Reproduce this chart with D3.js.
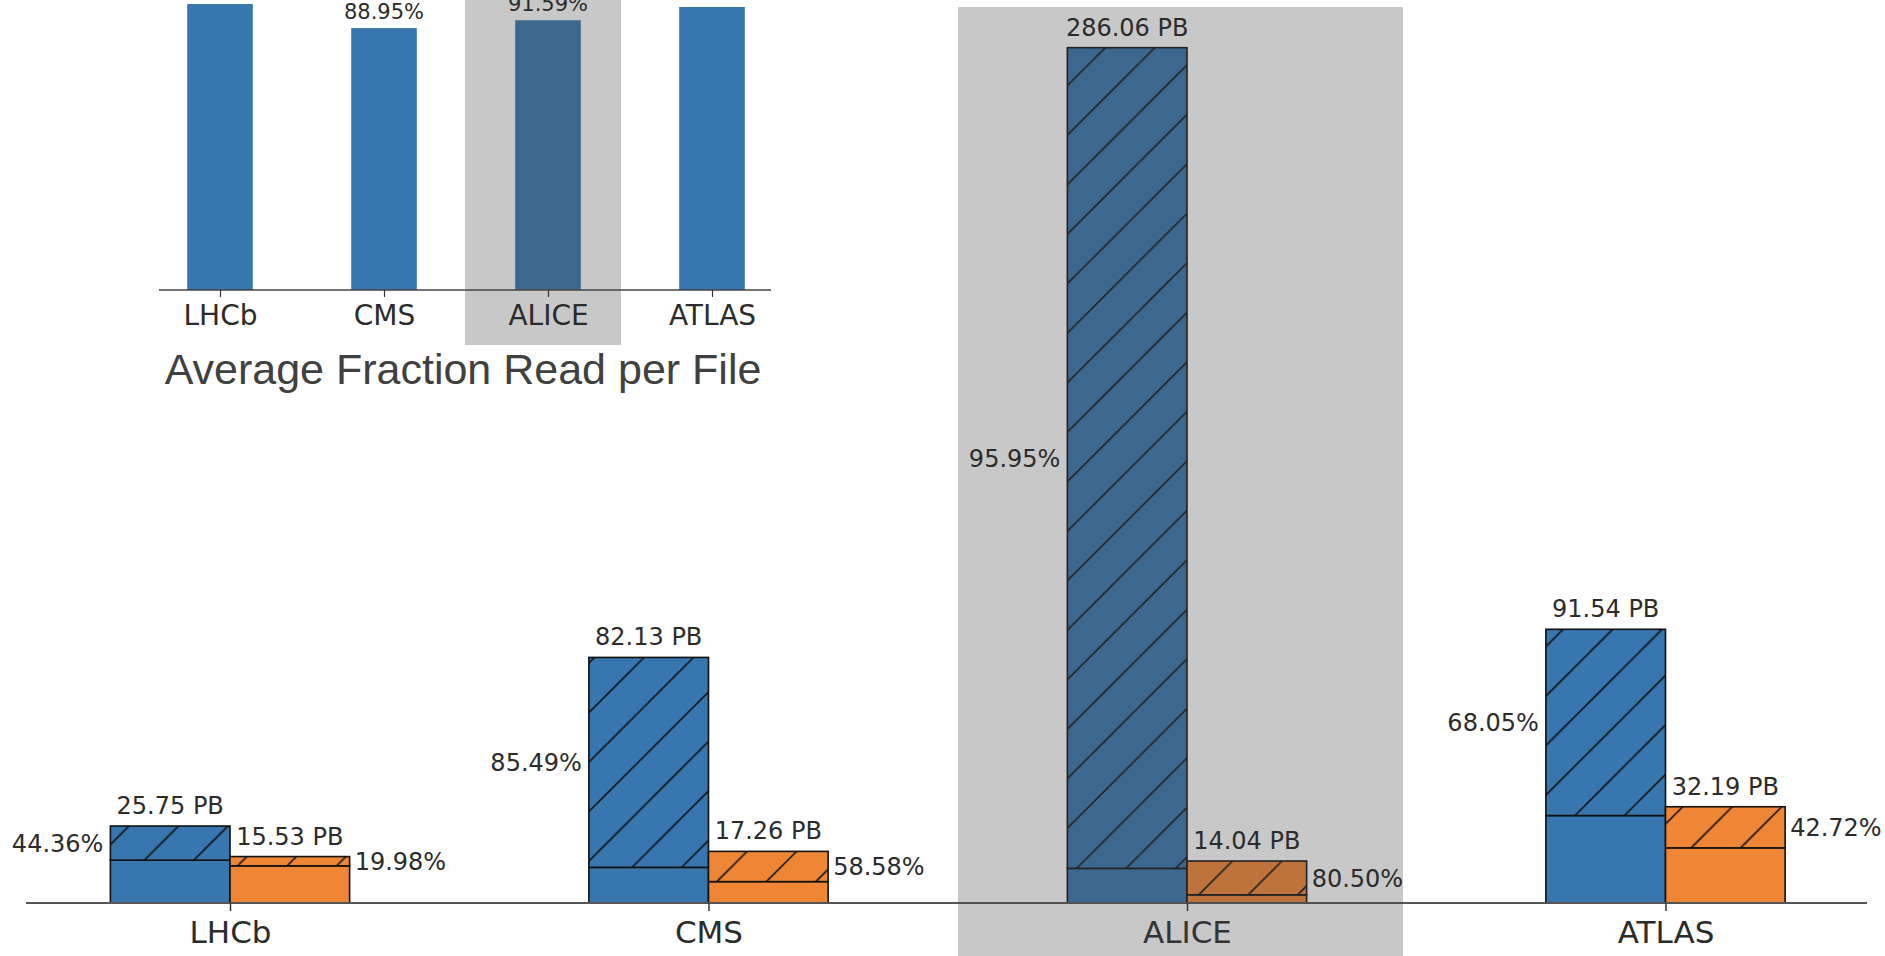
<!DOCTYPE html>
<html>
<head>
<meta charset="utf-8">
<script src="https://cdn.jsdelivr.net/npm/d3@7"></script>
<style>
  html, body { margin: 0; padding: 0; background: #fff; overflow: hidden; }
  text { font-family: "DejaVu Sans", sans-serif; fill: #2b2b2b; }
  text.title { font-family: "Liberation Sans", Arial, sans-serif; fill: #404040; }
</style>
</head>
<body>
<svg id="chart" width="1885" height="956"></svg>
<script>
'use strict';

// Experiments (x categories)
const categories = ["LHCb", "CMS", "ALICE", "ATLAS"];
// Blue series: total volume (PB) and share that is hatched (%)
const totalBlue = [25.75, 82.13, 286.06, 91.54];
const pctBlue = [44.36, 85.49, 95.95, 68.05];
// Orange series
const totalOrange = [15.53, 17.26, 14.04, 32.19];
const pctOrange = [19.98, 58.58, 80.50, 42.72];
// Inset: average fraction read per file (%)
const avgFraction = [97.10, 88.95, 91.59, 96.10];
const highlighted = "ALICE";

(function() {
    const svg = d3.select("#chart");
    const blue = "#3776ae", orange = "#ef8636";

    // hatch "/" pattern, anchored in page coordinates like matplotlib
    const P = 49.5, off = 14.5;
    const pat = svg.append("defs").append("pattern")
        .attr("id", "hatch")
        .attr("patternUnits", "userSpaceOnUse")
        .attr("width", P)
        .attr("height", P);
    [-1, 0, 1, 2].forEach(function(k) {
        const c = off + k * P;
        pat.append("path")
            .attr("d", "M" + (c + 5) + ",-5L-5," + (c + 5))
            .attr("stroke", "#111")
            .attr("stroke-width", 1.7);
    });

    // ---------- main chart ----------
    const x = d3.scalePoint().domain(categories).range([230, 1665.5]);
    const y = d3.scaleLinear().domain([0, 302]).range([903, 0]);
    const barW = x.step() * 0.25;

    const segs = [];
    categories.forEach(function(c, i) {
        segs.push({ cat: c, total: totalBlue[i], pct: pctBlue[i], color: blue, x0: x(c) - barW, side: "left" });
        segs.push({ cat: c, total: totalOrange[i], pct: pctOrange[i], color: orange, x0: x(c), side: "right" });
    });

    const bars = svg.append("g");
    segs.forEach(function(d) {
        const split = d.total * (1 - d.pct / 100);
        // solid lower part
        bars.append("rect")
            .attr("x", d.x0).attr("width", barW)
            .attr("y", y(split)).attr("height", y(0) - y(split))
            .attr("fill", d.color).attr("stroke", "#111").attr("stroke-width", 1.6);
        // hatched upper part
        bars.append("rect")
            .attr("x", d.x0).attr("width", barW)
            .attr("y", y(d.total)).attr("height", y(split) - y(d.total))
            .attr("fill", d.color);
        bars.append("rect")
            .attr("x", d.x0).attr("width", barW)
            .attr("y", y(d.total)).attr("height", y(split) - y(d.total))
            .attr("fill", "url(#hatch)")
            .attr("stroke", "#111").attr("stroke-width", 1.6);
    });

    // x axis
    svg.append("line")
        .attr("x1", 26).attr("x2", 1867)
        .attr("y1", y(0)).attr("y2", y(0))
        .attr("stroke", "#555").attr("stroke-width", 2);
    const gx = svg.append("g")
        .attr("transform", "translate(0," + y(0) + ")")
        .call(d3.axisBottom(x).tickSize(8).tickSizeOuter(0));
    gx.select(".domain").remove();
    gx.selectAll(".tick line").attr("stroke", "#333").attr("stroke-width", 1.5);
    gx.selectAll(".tick text").attr("y", 40).attr("dy", null).style("font-size", "31px");

    // inset bars (drawn before highlight)
    const xi = d3.scalePoint().domain(categories).range([220, 712]);
    const yi = d3.scaleLinear().domain([0, 100]).range([290, -4.5]);
    const barWi = xi.step() * 0.4;
    svg.append("g").selectAll("rect")
        .data(categories)
        .enter()
        .append("rect")
            .attr("x", function(c) { return xi(c) - barWi / 2; })
            .attr("width", barWi)
            .attr("y", function(c, i) { return yi(avgFraction[i]); })
            .attr("height", function(c, i) { return yi(0) - yi(avgFraction[i]); })
            .attr("fill", blue);

    // gray highlight boxes
    svg.append("rect")
        .attr("x", x(highlighted) - 229).attr("width", 445)
        .attr("y", 7).attr("height", 956 - 7)
        .attr("fill", "#484848").attr("opacity", 0.3);
    svg.append("rect")
        .attr("x", xi(highlighted) - 83).attr("width", 156)
        .attr("y", 0).attr("height", 345)
        .attr("fill", "#484848").attr("opacity", 0.3);

    // labels: totals above bars, percentages beside hatched part
    const labels = svg.append("g").style("font-size", "24px");
    segs.forEach(function(d) {
        const split = d.total * (1 - d.pct / 100);
        labels.append("text")
            .attr("x", d.x0 + barW / 2)
            .attr("y", y(d.total) - 12)
            .attr("text-anchor", "middle")
            .text(d.total.toFixed(2) + " PB");
        const mid = (y(d.total) + y(split)) / 2;
        labels.append("text")
            .attr("x", d.side === "left" ? d.x0 - 7 : d.x0 + barW + 5)
            .attr("y", mid + 8.7)
            .attr("text-anchor", d.side === "left" ? "end" : "start")
            .text(d.pct.toFixed(2) + "%");
    });

    // inset axis
    svg.append("line")
        .attr("x1", 159).attr("x2", 771)
        .attr("y1", yi(0)).attr("y2", yi(0))
        .attr("stroke", "#444").attr("stroke-width", 1.5);
    const gi = svg.append("g")
        .attr("transform", "translate(0," + yi(0) + ")")
        .call(d3.axisBottom(xi).tickSize(7).tickSizeOuter(0));
    gi.select(".domain").remove();
    gi.selectAll(".tick line").attr("stroke", "#333").attr("stroke-width", 1.2);
    gi.selectAll(".tick text").attr("y", 35).attr("dy", null).style("font-size", "28px");

    // inset value labels: only those that land inside the picture (as in the original crop)
    const insetLabels = categories
        .map(function(c, i) { return { cat: c, v: avgFraction[i] }; })
        .filter(function(d) { return yi(d.v) - 9 > 8; });
    svg.append("g").selectAll("text")
        .data(insetLabels)
        .enter()
        .append("text")
            .attr("x", function(d) { return xi(d.cat); })
            .attr("y", function(d) { return yi(d.v) - 9; })
            .attr("text-anchor", "middle")
            .style("font-size", "21px")
            .text(function(d) { return d.v.toFixed(2) + "%"; });

    svg.append("text")
        .attr("class", "title")
        .attr("x", 463).attr("y", 384)
        .attr("text-anchor", "middle")
        .style("font-size", "43px")
        .text("Average Fraction Read per File");
})();
</script>
</body>
</html>
